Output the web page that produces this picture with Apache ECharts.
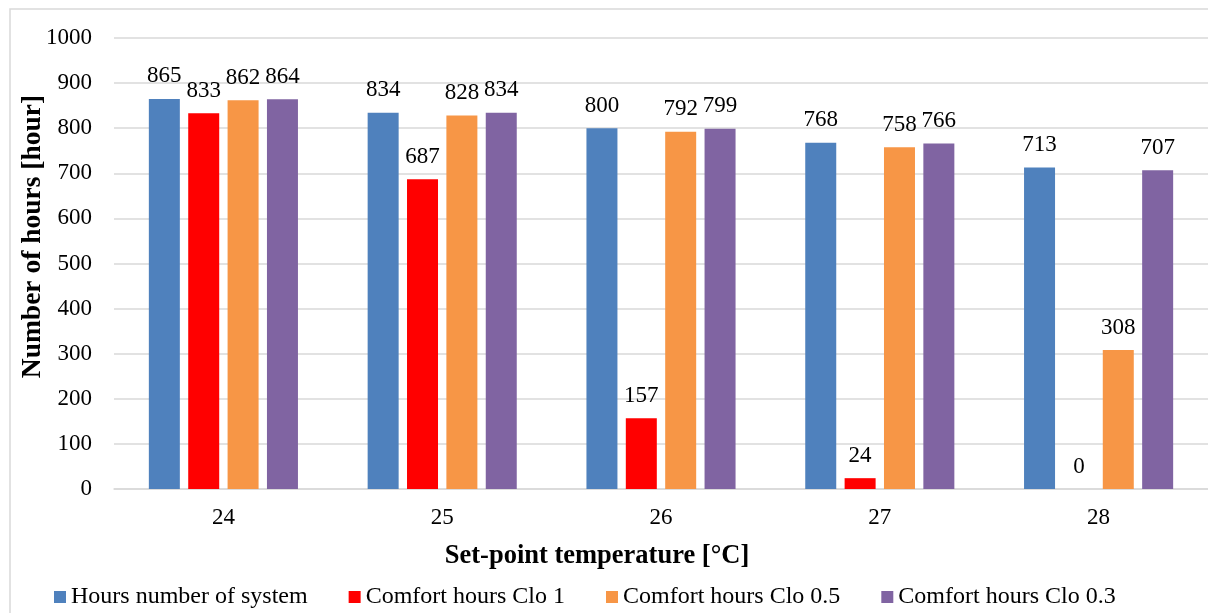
<!DOCTYPE html>
<html>
<head>
<meta charset="utf-8">
<script src="https://cdn.jsdelivr.net/npm/echarts@6/dist/echarts.min.js"></script>
<style>html,body{margin:0;padding:0;background:#fff;}#chart{width:1208px;height:613px;}</style>
</head>
<body>
<div id="chart"></div>
<script>
const categories = ['24', '25', '26', '27', '28'];
const hoursSystem = [865, 834, 800, 768, 713];
const comfortClo1 = [833, 687, 157, 24, 0];
const comfortClo05 = [862, 828, 792, 758, 308];
const comfortClo03 = [864, 834, 799, 766, 707];
const seriesNames = ['Hours number of system', 'Comfort hours Clo 1', 'Comfort hours Clo 0.5', 'Comfort hours Clo 0.3'];
const yTicks = { min: 0, max: 1000, interval: 100 };

const FONT = '"Liberation Serif", "Times New Roman", serif';
const colors = ['#4F81BD', '#FF0000', '#F79646', '#8064A2'];
const chart = echarts.init(document.getElementById('chart'));
const mk = (name, data, i) => ({
  name, type: 'bar', data,
  barWidth: 31, barGap: '27%',
  itemStyle: { color: colors[i] },
  label: { show: true, position: 'top', distance: 11, color: '#000', fontFamily: FONT, fontSize: 23 }
});
chart.setOption({
  animation: false,
  backgroundColor: '#fff',
  graphic: [{ type: 'rect', shape: { x: 10, y: 9, width: 1210, height: 620 }, style: { fill: 'none', stroke: '#d9d9d9', lineWidth: 1.5 }, silent: true }],
  grid: { left: 114, right: 0, top: 38, bottom: 124 },
  legend: {
    top: 580, left: 49, itemWidth: 12, itemHeight: 12, itemGap: 41,
    icon: 'rect',
    textStyle: { fontFamily: FONT, fontSize: 24, color: '#000' },
    data: seriesNames
  },
  xAxis: {
    type: 'category', data: categories,
    axisLine: { lineStyle: { color: '#d9d9d9', width: 1.5 } },
    axisTick: { show: false },
    axisLabel: { fontFamily: FONT, fontSize: 23, color: '#000', margin: 17 },
    name: 'Set-point temperature [°C]', nameLocation: 'middle', nameGap: 54,
    nameMoveOverlap: false,
    nameTextStyle: { fontFamily: FONT, fontSize: 26.5, fontWeight: 'bold', color: '#000', padding: [0, 128, 0, 0] }
  },
  yAxis: {
    type: 'value', min: yTicks.min, max: yTicks.max, interval: yTicks.interval,
    axisLine: { show: false }, axisTick: { show: false },
    splitLine: { lineStyle: { color: '#d9d9d9', width: 1.5 } },
    axisLabel: { fontFamily: FONT, fontSize: 23, color: '#000', margin: 22, formatter: v => String(v) },
    name: 'Number of hours [hour]', nameLocation: 'middle', nameGap: 67,
    nameMoveOverlap: false,
    nameTextStyle: { fontFamily: FONT, fontSize: 27.5, fontWeight: 'bold', color: '#000', padding: [0, 0, 0, 54] }
  },
  series: [
    mk(seriesNames[0], hoursSystem, 0),
    mk(seriesNames[1], comfortClo1, 1),
    mk(seriesNames[2], comfortClo05, 2),
    mk(seriesNames[3], comfortClo03, 3)
  ]
});
</script>
</body>
</html>
